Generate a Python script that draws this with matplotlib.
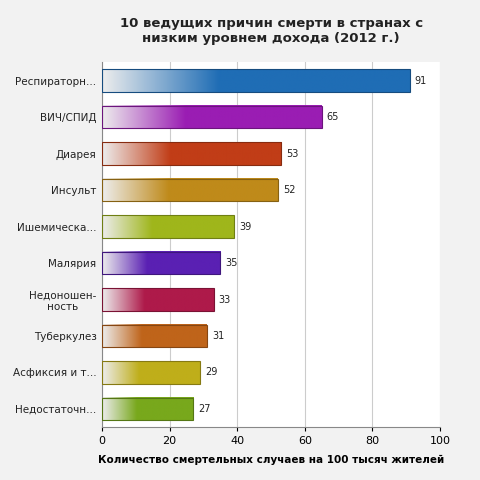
import matplotlib
matplotlib.use("Agg")
import matplotlib.pyplot as plt
import numpy as np
from matplotlib.colors import to_rgb

categories = ["Респираторн...", "ВИЧ/СПИД", "Диарея", "Инсульт", "Ишемическа...",
              "Малярия", "Недоношен-\nность", "Туберкулез", "Асфиксия и т...", "Недостаточн..."]
values = [91, 65, 53, 52, 39, 35, 33, 31, 29, 27]
colors = ["#1f6db5", "#9a1db3", "#c13d17", "#bf8a1a", "#9fb61b",
          "#5a20b3", "#ae1a4a", "#bf641a", "#bfae1a", "#78a81c"]

fig = plt.figure(figsize=(4.8, 4.8), dpi=100, facecolor="#f2f2f2")
ax = fig.add_axes([0.2125, 0.11, 0.704, 0.76])
ax.set_facecolor("white")
n = len(values)
ys = np.arange(n)
h = 0.62
ax.barh(ys, values, height=h, color="none")
grad = np.linspace(0, 1, 256)
for y, v, c in zip(ys, values, colors):
    rgb = np.array(to_rgb(c))
    t = np.clip(grad / 0.38, 0, 1)[:, None]
    base = np.array([0.93, 0.93, 0.93])
    img = (base * (1 - t) + rgb * t)
    img = img[None, :, :]
    ax.imshow(img, extent=[0, v, y - h / 2, y + h / 2], aspect="auto", zorder=2)
    ax.add_patch(plt.Rectangle((0, y - h / 2), v, h, fill=False, ec=rgb * 0.7, lw=0.8, zorder=3))
    ax.text(v + 1.5, y, str(v), va="center", ha="left", fontsize=7, color="#222", zorder=4)
ax.set_xlim(0, 100)
ax.set_ylim(n - 0.5, -0.5)
ax.set_yticks(ys)
ax.set_yticklabels(categories, fontsize=7.5, color="#222", multialignment="center")
ax.set_xticks(range(0, 101, 20))
ax.tick_params(axis="x", labelsize=8, length=3)
ax.tick_params(axis="y", length=0, pad=4)
ax.grid(axis="x", color="#cccccc", lw=0.8, zorder=0)
ax.set_axisbelow(True)
for s in ["top", "right"]:
    ax.spines[s].set_visible(False)
ax.spines["left"].set_color("#888")
ax.spines["bottom"].set_color("#888")
ax.set_xlabel("Количество смертельных случаев на 100 тысяч жителей", fontsize=7.5, fontweight="bold", labelpad=6)
fig.suptitle("10 ведущих причин смерти в странах с\nнизким уровнем дохода (2012 г.)",
             x=0.565, y=0.965, fontsize=9.5, fontweight="bold", color="#222")
fig.savefig("out.png", dpi=100, facecolor=fig.get_facecolor())
